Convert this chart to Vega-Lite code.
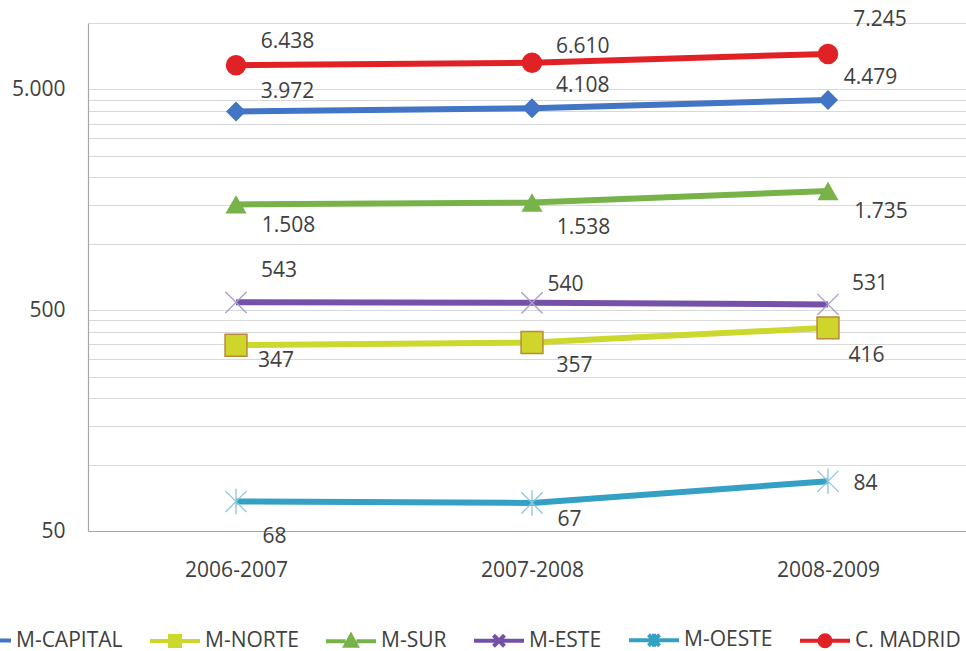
{
  "$schema": "https://vega.github.io/schema/vega-lite/v6.json",
  "width": 878,
  "height": 508,
  "autosize": "none",
  "padding": {"left": 88, "top": 23, "right": 0, "bottom": 120},
  "background": "white",
  "config": {
    "locale": {"number": {"decimal": ",", "thousands": ".", "grouping": [3], "currency": ["", " €"]}},
    "view": {"stroke": null},
    "font": "Open Sans",
    "text": {"fontSize": 21, "color": "#404040", "font": "Open Sans"}
  },
  "data": {
    "values": [
      {"period": "2006-2007", "series": "M-CAPITAL", "value": 3972},
      {"period": "2006-2007", "series": "M-NORTE", "value": 347},
      {"period": "2006-2007", "series": "M-SUR", "value": 1508},
      {"period": "2006-2007", "series": "M-ESTE", "value": 543},
      {"period": "2006-2007", "series": "M-OESTE", "value": 68},
      {"period": "2006-2007", "series": "C. MADRID", "value": 6438},
      {"period": "2007-2008", "series": "M-CAPITAL", "value": 4108},
      {"period": "2007-2008", "series": "M-NORTE", "value": 357},
      {"period": "2007-2008", "series": "M-SUR", "value": 1538},
      {"period": "2007-2008", "series": "M-ESTE", "value": 540},
      {"period": "2007-2008", "series": "M-OESTE", "value": 67},
      {"period": "2007-2008", "series": "C. MADRID", "value": 6610},
      {"period": "2008-2009", "series": "M-CAPITAL", "value": 4479},
      {"period": "2008-2009", "series": "M-NORTE", "value": 416},
      {"period": "2008-2009", "series": "M-SUR", "value": 1735},
      {"period": "2008-2009", "series": "M-ESTE", "value": 531},
      {"period": "2008-2009", "series": "M-OESTE", "value": 84},
      {"period": "2008-2009", "series": "C. MADRID", "value": 7245}
    ]
  },
  "encoding": {
    "x": {
      "field": "period", "type": "ordinal",
      "scale": {"type": "point", "padding": 0.4831, "align": 0.5175},
      "axis": {"title": null, "labelAngle": 0, "ticks": false, "grid": false, "domainColor": "#a6a6a6", "domainWidth": 1.2, "labelFontSize": 21, "labelPadding": 28, "labelColor": "#404040", "labelFont": "Open Sans"}
    },
    "y": {
      "field": "value", "type": "quantitative",
      "scale": {"type": "log", "domain": [50, 10000], "nice": false},
      "axis": {
        "title": null,
        "values": [50, 100, 150, 200, 250, 300, 350, 400, 450, 500, 1000, 1500, 2000, 2500, 3000, 3500, 4000, 4500, 5000, 10000],
        "labelExpr": "(datum.value == 50 || datum.value == 500 || datum.value == 5000) ? format(datum.value, ',') : ''",
        "labelOverlap": false,
        "labelFlush": false,
        "ticks": false,
        "grid": true,
        "gridColor": "#d9d9d9",
        "gridWidth": 1,
        "domainColor": "#a6a6a6",
        "domainWidth": 1.2,
        "labelPadding": 23,
        "labelFontSize": 21,
        "labelColor": "#404040",
        "labelFont": "Open Sans"
      }
    }
  },
  "layer": [
    {
      "mark": {"type": "line", "strokeWidth": 6},
      "encoding": {
        "color": {
          "field": "series", "type": "nominal", "title": null,
          "scale": {"domain": ["M-CAPITAL", "M-NORTE", "M-SUR", "M-ESTE", "M-OESTE", "C. MADRID"], "range": ["#4275C5", "#CDD82E", "#78B34A", "#7552A8", "#34A0C4", "#E02227"]},
          "legend": {
            "orient": "none", "legendX": -129, "legendY": 590, "direction": "horizontal", "columns": 6,
            "symbolSize": 2500, "symbolStrokeWidth": 4, "labelFontSize": 21, "labelFont": "Open Sans", "labelColor": "#404040",
            "labelOffset": 3, "columnPadding": 19, "padding": 0, "labelLimit": 300,
            "encode": {
              "symbols": {
                "update": {
                  "shape": {"signal": "datum.value == 'M-CAPITAL' ? 'M-1,0H-0.24M0.24,0H1M-0.24,0L0,-0.24L0.24,0L0,0.24Z' : datum.value == 'M-NORTE' ? 'M-1,0H-0.2M0.2,0H1M-0.2,-0.2H0.2V0.2H-0.2Z' : datum.value == 'M-SUR' ? 'M-1,0H-0.22M0.22,0H1M-0.22,0.18L0,-0.22L0.22,0.18Z' : datum.value == 'M-ESTE' ? 'M-1,0H1M-0.22,-0.22L0.22,0.22M-0.22,0.22L0.22,-0.22' : datum.value == 'M-OESTE' ? 'M-1,0H1M-0.22,-0.22L0.22,0.22M-0.22,0.22L0.22,-0.22M0,-0.26V0.26' : 'M-1,0H-0.22M0.22,0H1M-0.22,0A0.22,0.22,0,1,1,0.22,0A0.22,0.22,0,1,1,-0.22,0Z'"},
                  "fill": {"scale": "color", "field": "value"}
                }
              }
            }
          }
        }
      }
    },
    {"transform": [{"filter": "datum.series == 'M-CAPITAL'"}], "mark": {"type": "point", "shape": "diamond", "size": 400, "filled": true, "fill": "#4275C5", "opacity": 1}},
    {"transform": [{"filter": "datum.series == 'M-NORTE'"}], "mark": {"type": "point", "shape": "square", "size": 480, "filled": true, "fill": "#CFD52B", "stroke": "#B98A3C", "strokeWidth": 1.5, "opacity": 1}},
    {"transform": [{"filter": "datum.series == 'M-SUR'"}], "mark": {"type": "point", "shape": "triangle-up", "size": 450, "filled": true, "fill": "#78B34A", "opacity": 1}},
    {"transform": [{"filter": "datum.series == 'M-ESTE'"}], "mark": {"type": "point", "shape": "M-1,-1L1,1M-1,1L1,-1", "size": 450, "filled": false, "stroke": "#A99ED2", "strokeWidth": 1.3, "opacity": 1}},
    {"transform": [{"filter": "datum.series == 'M-OESTE'"}], "mark": {"type": "point", "shape": "M-1,-1L1,1M-1,1L1,-1M0,-1.2L0,1.2", "size": 450, "filled": false, "stroke": "#8CC6DC", "strokeWidth": 1.3, "opacity": 1}},
    {"transform": [{"filter": "datum.series == 'C. MADRID'"}], "mark": {"type": "point", "shape": "circle", "size": 420, "filled": true, "fill": "#E02227", "opacity": 1}},

    {"transform": [{"filter": "datum.series == 'C. MADRID' && datum.period == '2006-2007'"}], "mark": {"type": "text", "dx": 51.5, "dy": -23}, "encoding": {"text": {"field": "value", "type": "quantitative", "format": ",d"}}},
    {"transform": [{"filter": "datum.series == 'C. MADRID' && datum.period == '2007-2008'"}], "mark": {"type": "text", "dx": 50.7, "dy": -16}, "encoding": {"text": {"field": "value", "type": "quantitative", "format": ",d"}}},
    {"transform": [{"filter": "datum.series == 'C. MADRID' && datum.period == '2008-2009'"}], "mark": {"type": "text", "dx": 52, "dy": -34}, "encoding": {"text": {"field": "value", "type": "quantitative", "format": ",d"}}},
    {"transform": [{"filter": "datum.series == 'M-CAPITAL' && datum.period == '2006-2007'"}], "mark": {"type": "text", "dx": 51.5, "dy": -19.5}, "encoding": {"text": {"field": "value", "type": "quantitative", "format": ",d"}}},
    {"transform": [{"filter": "datum.series == 'M-CAPITAL' && datum.period == '2007-2008'"}], "mark": {"type": "text", "dx": 50.7, "dy": -22}, "encoding": {"text": {"field": "value", "type": "quantitative", "format": ",d"}}},
    {"transform": [{"filter": "datum.series == 'M-CAPITAL' && datum.period == '2008-2009'"}], "mark": {"type": "text", "dx": 42.5, "dy": -22.5}, "encoding": {"text": {"field": "value", "type": "quantitative", "format": ",d"}}},
    {"transform": [{"filter": "datum.series == 'M-SUR' && datum.period == '2006-2007'"}], "mark": {"type": "text", "dx": 52.5, "dy": 21.6}, "encoding": {"text": {"field": "value", "type": "quantitative", "format": ",d"}}},
    {"transform": [{"filter": "datum.series == 'M-SUR' && datum.period == '2007-2008'"}], "mark": {"type": "text", "dx": 51.5, "dy": 26}, "encoding": {"text": {"field": "value", "type": "quantitative", "format": ",d"}}},
    {"transform": [{"filter": "datum.series == 'M-SUR' && datum.period == '2008-2009'"}], "mark": {"type": "text", "dx": 53, "dy": 21}, "encoding": {"text": {"field": "value", "type": "quantitative", "format": ",d"}}},
    {"transform": [{"filter": "datum.series == 'M-ESTE' && datum.period == '2006-2007'"}], "mark": {"type": "text", "dx": 43, "dy": -31}, "encoding": {"text": {"field": "value", "type": "quantitative", "format": ",d"}}},
    {"transform": [{"filter": "datum.series == 'M-ESTE' && datum.period == '2007-2008'"}], "mark": {"type": "text", "dx": 33.5, "dy": -17.5}, "encoding": {"text": {"field": "value", "type": "quantitative", "format": ",d"}}},
    {"transform": [{"filter": "datum.series == 'M-ESTE' && datum.period == '2008-2009'"}], "mark": {"type": "text", "dx": 42, "dy": -20}, "encoding": {"text": {"field": "value", "type": "quantitative", "format": ",d"}}},
    {"transform": [{"filter": "datum.series == 'M-NORTE' && datum.period == '2006-2007'"}], "mark": {"type": "text", "dx": 40, "dy": 16}, "encoding": {"text": {"field": "value", "type": "quantitative", "format": ",d"}}},
    {"transform": [{"filter": "datum.series == 'M-NORTE' && datum.period == '2007-2008'"}], "mark": {"type": "text", "dx": 42.5, "dy": 23.5}, "encoding": {"text": {"field": "value", "type": "quantitative", "format": ",d"}}},
    {"transform": [{"filter": "datum.series == 'M-NORTE' && datum.period == '2008-2009'"}], "mark": {"type": "text", "dx": 38.5, "dy": 28}, "encoding": {"text": {"field": "value", "type": "quantitative", "format": ",d"}}},
    {"transform": [{"filter": "datum.series == 'M-OESTE' && datum.period == '2006-2007'"}], "mark": {"type": "text", "dx": 38.5, "dy": 35}, "encoding": {"text": {"field": "value", "type": "quantitative", "format": ",d"}}},
    {"transform": [{"filter": "datum.series == 'M-OESTE' && datum.period == '2007-2008'"}], "mark": {"type": "text", "dx": 37.5, "dy": 16.6}, "encoding": {"text": {"field": "value", "type": "quantitative", "format": ",d"}}},
    {"transform": [{"filter": "datum.series == 'M-OESTE' && datum.period == '2008-2009'"}], "mark": {"type": "text", "dx": 37.5, "dy": 3}, "encoding": {"text": {"field": "value", "type": "quantitative", "format": ",d"}}}
  ]
}
